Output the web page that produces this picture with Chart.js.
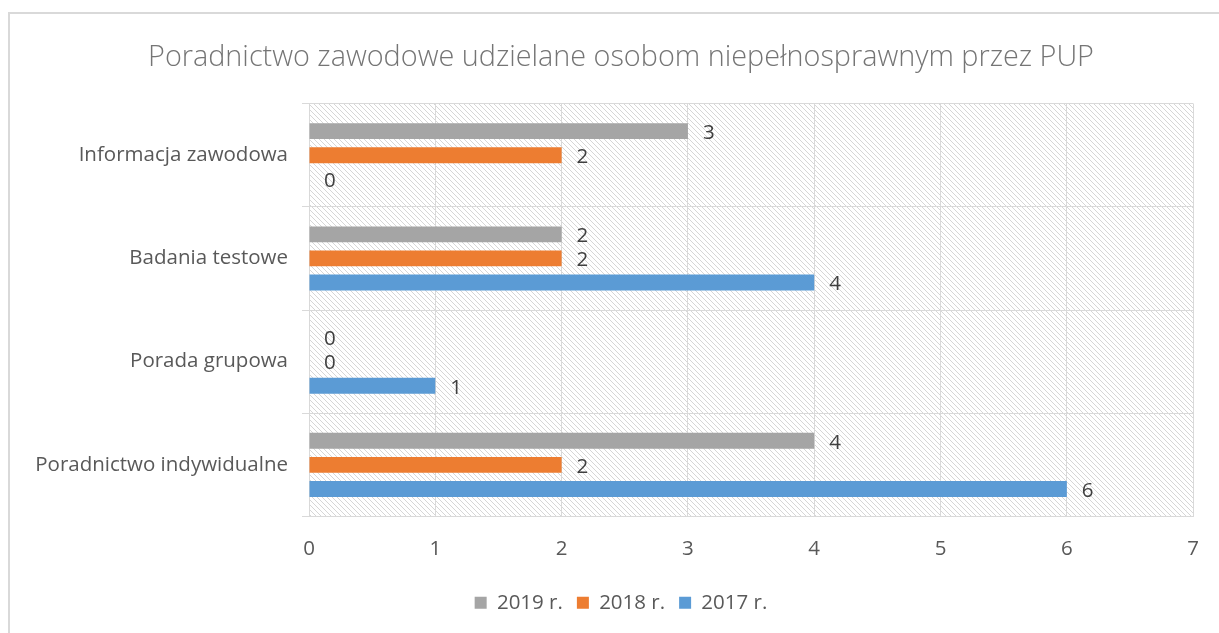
<!DOCTYPE html>
<html>
<head>
<meta charset="utf-8">
<script src="https://cdn.jsdelivr.net/npm/chart.js@4.4.1/dist/chart.umd.min.js"></script>
<style>
  html, body { margin: 0; padding: 0; background: #ffffff; }
  #wrap { width: 1219px; height: 633px; position: relative; }
</style>
</head>
<body>
<div id="wrap"><canvas id="chart" width="1219" height="633"></canvas></div>
<script>
// Poradnictwo zawodowe - horizontal grouped bars

const categories = ['Informacja zawodowa', 'Badania testowe', 'Porada grupowa', 'Poradnictwo indywidualne'];
const seriesNames = ['2019 r.', '2018 r.', '2017 r.'];
const values2019 = [3, 2, 0, 4];
const values2018 = [2, 2, 0, 2];
const values2017 = [0, 4, 1, 6];
const xMin = 0;
const xMax = 7;

const fontFamily = '"Open Sans", Lato, sans-serif';
const textColor = '#595959';
const gridColor = '#d9d9d9';
const labelSize = 20.5;

// diagonal hatch for the plot background
function makeHatch(ctx) {
  const tile = document.createElement('canvas');
  tile.width = 5;
  tile.height = 5;
  const g = tile.getContext('2d');
  g.strokeStyle = '#d6d6d6';
  g.lineWidth = 1;
  g.beginPath();
  g.moveTo(-1, -1); g.lineTo(6, 6);
  g.moveTo(-1, 4); g.lineTo(1, 6);
  g.moveTo(4, -1); g.lineTo(6, 1);
  g.stroke();
  return ctx.createPattern(tile, 'repeat');
}

const backgroundPlugin = {
  id: 'plotBackground',
  beforeDraw(chart) {
    const ctx = chart.ctx;
    const a = chart.chartArea;
    ctx.save();
    // outer chart frame
    ctx.strokeStyle = gridColor;
    ctx.lineWidth = 2;
    ctx.strokeRect(9, 13, 1400, 800);
    ctx.fillStyle = makeHatch(ctx);
    ctx.fillRect(a.left, a.top, a.right - a.left, a.bottom - a.top);
    ctx.restore();
  }
};

const valueLabelPlugin = {
  id: 'valueLabels',
  afterDatasetsDraw(chart) {
    const ctx = chart.ctx;
    ctx.save();
    ctx.font = labelSize + 'px ' + fontFamily;
    ctx.fillStyle = '#404040';
    ctx.textAlign = 'left';
    ctx.textBaseline = 'middle';
    chart.data.datasets.forEach((ds, i) => {
      const meta = chart.getDatasetMeta(i);
      meta.data.forEach((bar, j) => {
        ctx.fillText(String(ds.data[j]), bar.x + 15, bar.y + 2);
      });
    });
    ctx.restore();
  }
};

const ctx = document.getElementById('chart').getContext('2d');

new Chart(ctx, {
  type: 'bar',
  data: {
    labels: categories,
    datasets: [
      { label: seriesNames[0], data: values2019, backgroundColor: '#a5a5a5' },
      { label: seriesNames[1], data: values2018, backgroundColor: '#ed7d31' },
      { label: seriesNames[2], data: values2017, backgroundColor: '#5b9bd5' }
    ]
  },
  options: {
    indexAxis: 'y',
    responsive: false,
    animation: false,
    categoryPercentage: 0.7,
    barPercentage: 0.66,
    layout: {
      padding: { left: 46, right: 23, top: 38, bottom: 10 }
    },
    plugins: {
      title: {
        display: true,
        text: 'Poradnictwo zawodowe udzielane osobom niepełnosprawnym przez PUP',
        color: '#757575',
        font: { family: fontFamily, size: 28.8, weight: 300 },
        padding: { top: 3, bottom: 28 }
      },
      legend: {
        position: 'bottom',
        labels: {
          color: textColor,
          font: { family: fontFamily, size: labelSize },
          boxWidth: 12,
          boxHeight: 12,
          padding: 14
        }
      },
      tooltip: { enabled: false }
    },
    scales: {
      x: {
        min: xMin,
        max: xMax,
        ticks: {
          stepSize: 1,
          color: textColor,
          font: { family: fontFamily, size: labelSize },
          padding: 20
        },
        grid: { color: gridColor, drawTicks: false },
        border: { color: gridColor },
        afterFit(scale) { scale.height = 62; }
      },
      y: {
        ticks: {
          color: textColor,
          font: { family: fontFamily, size: labelSize },
          padding: 14
        },
        grid: { color: gridColor, offset: true, tickLength: 7 },
        border: { color: gridColor },
        afterFit(scale) {
          scale.width = 263;
          // long labels reach into the left padding, so don't clip them to the axis box
          scale._computeLabelArea = () => undefined;
        }
      }
    }
  },
  plugins: [backgroundPlugin, valueLabelPlugin]
});
</script>
</body>
</html>
